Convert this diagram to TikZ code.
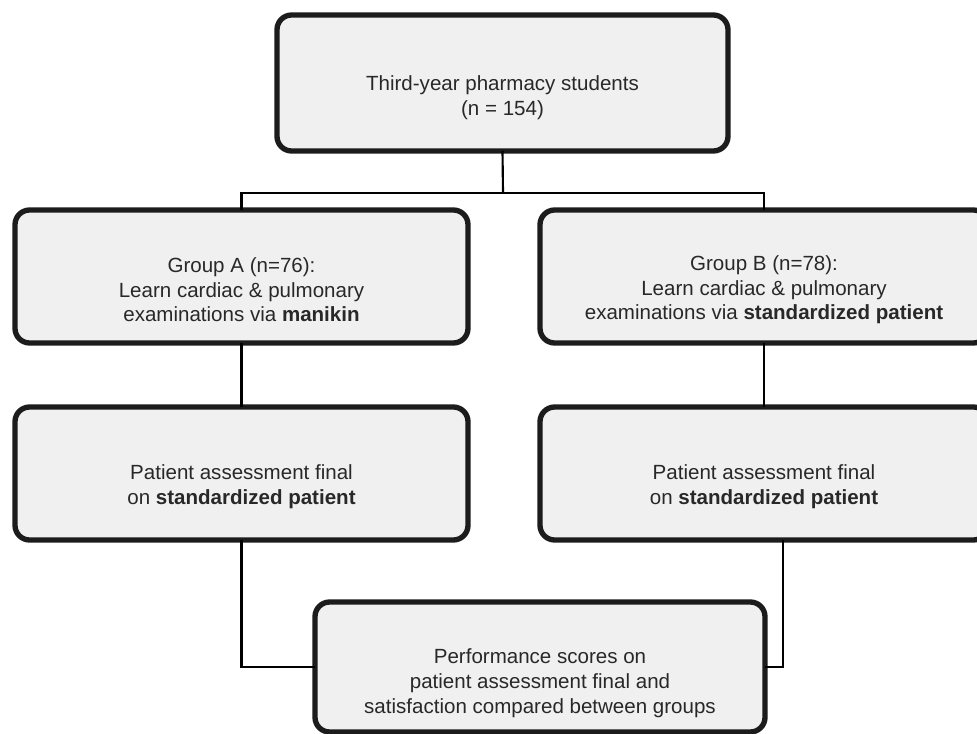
\documentclass[tikz,border=0pt]{standalone}
\usepackage{fontspec}
\setmainfont{Liberation Sans}
\definecolor{boxfill}{RGB}{240,240,240}
\definecolor{boxline}{RGB}{28,28,28}
\definecolor{txt}{RGB}{40,40,40}
\tikzset{
  flowbox/.style={draw=boxline, fill=boxfill, line width=4pt, rounded corners=11pt,
    inner sep=0pt, outer sep=0pt},
  boxtext/.style={align=center, text=txt, inner sep=0pt,
    font=\fontsize{15.4}{18.6}\selectfont},
  link/.style={draw=black, line width=1.6pt},
}
\begin{document}
\begin{tikzpicture}[x=0.75pt,y=-0.75pt]
\useasboundingbox (0,0) rectangle (977,734);
\clip (0,0) rectangle (977,734);
\fill[white] (0,0) rectangle (977,734);

\node[flowbox, minimum width={451*0.75pt}, minimum height={136*0.75pt}] (top) at (502.5,83) {};
\node[flowbox, minimum width={453*0.75pt}, minimum height={133*0.75pt}] (ga) at (241.5,276.5) {};
\node[flowbox, minimum width={448*0.75pt}, minimum height={133*0.75pt}] (gb) at (764,276.5) {};
\node[flowbox, minimum width={453*0.75pt}, minimum height={133*0.75pt}] (pa) at (241.5,473.5) {};
\node[flowbox, minimum width={448*0.75pt}, minimum height={133*0.75pt}] (pb) at (764,473.5) {};
\node[flowbox, minimum width={450*0.75pt}, minimum height={130*0.75pt}] (res) at (540,667) {};

\node[boxtext] (topt) at ([yshift=-11pt]top.center) {Third-year pharmacy students\\(n = 154)};
\node[boxtext] (gat) at ([yshift=-10pt]ga.center) {Group A (n=76):\\Learn cardiac \& pulmonary\\examinations via \textbf{manikin}};
\node[boxtext] (gbt) at ([yshift=-10pt]gb.center) {Group B (n=78):\\Learn cardiac \& pulmonary\\examinations via \textbf{standardized patient}};
\node[boxtext] (pat) at ([yshift=-10pt]pa.center) {Patient assessment final\\on \textbf{standardized patient}};
\node[boxtext] (pbt) at ([yshift=-10pt]pb.center) {Patient assessment final\\on \textbf{standardized patient}};
\node[boxtext] (rest) at ([yshift=-12pt]res.center) {Performance scores on\\patient assessment final and\\satisfaction compared between groups};

\coordinate (split) at (503,193);
\draw[link] (top.south) -- (split);
\draw[link] (ga.north) |- (split) -| (gb.north);
\draw[link] (ga.south) -- (pa.north);
\draw[link] (gb.south) -- (pb.north);
\draw[link] (pa.south) |- (res.west);
\draw[link] ([xshift=14pt]pb.south) |- (res.east);
\end{tikzpicture}
\end{document}
